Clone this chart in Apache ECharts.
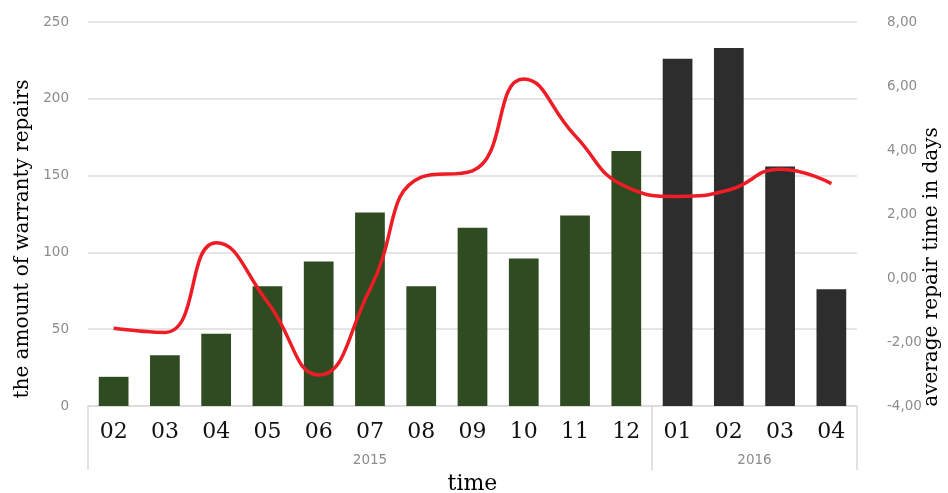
<!DOCTYPE html>
<html>
<head>
<meta charset="utf-8">
<script src="https://cdn.jsdelivr.net/npm/echarts@6/dist/echarts.min.js"></script>
<style>html,body{margin:0;padding:0;background:#fff}#c{width:948px;height:493px}</style>
</head>
<body>
<div id="c"></div>
<script>
// ---- data ----
const months = ['02','03','04','05','06','07','08','09','10','11','12','01','02','03','04'];
const years = ['2015','2016'];
const monthsPerYear = [11, 4];
const repairs = [19, 33, 47, 78, 94, 126, 78, 116, 96, 124, 166, 226, 233, 156, 76];
const avgDays = [-1.57, -1.7, 1.1, -0.75, -3.03, -0.35, 3.15, 3.35, 6.22, 4.45, 2.85, 2.55, 2.75, 3.4, 2.95];
const leftTicks = [0, 250, 50];
const rightTicks = [-4, 8, 2];

// year axis built on half-category slots
const nHalf = months.length * 2;
const yearAxisData = new Array(nHalf + 1).fill('');
const yearBounds = [0];
let acc = 0;
years.forEach((y, i) => {
  const start = acc;
  acc += monthsPerYear[i];
  yearAxisData[start + acc] = y;
  yearBounds.push(acc * 2);
});

const chart = echarts.init(document.getElementById('c'));
const gray = '#8c8c8c';
const tickFont = { color: gray, fontFamily: 'DejaVu Sans', fontSize: 13.5 };
const titleFont = { color: '#000', fontFamily: 'DejaVu Serif', fontSize: 20 };
chart.setOption({
  animation: false,
  grid: [
    { left: 88, right: 91, top: 22, bottom: 87, outerBoundsMode: 'none', containLabel: false },
    { left: 88, right: 91, top: 406, height: 64, outerBoundsMode: 'none', containLabel: false }
  ],
  xAxis: [
    {
      type: 'category',
      gridIndex: 0,
      data: months,
      position: 'bottom',
      axisLine: { lineStyle: { color: '#d9d9d9', width: 1.5 } },
      axisTick: { show: false },
      axisLabel: { interval: 0, color: '#111', fontFamily: 'DejaVu Serif', fontSize: 22, margin: 15 },
      name: 'time',
      nameLocation: 'middle',
      nameGap: 67,
      nameTextStyle: { color: '#000', fontFamily: 'DejaVu Serif', fontSize: 22 }
    },
    {
      type: 'category',
      gridIndex: 1,
      data: yearAxisData,
      boundaryGap: false,
      position: 'top',
      axisLine: { show: false, onZero: false },
      axisTick: { show: false },
      splitLine: {
        show: true, lineStyle: { color: '#d9d9d9', width: 1.5 },
        interval: (idx) => yearBounds.indexOf(idx) !== -1
      },
      axisLabel: Object.assign({ interval: 0, inside: true, margin: 47 }, tickFont)
    }
  ],
  yAxis: [
    {
      type: 'value', gridIndex: 0, min: leftTicks[0], max: leftTicks[1], interval: leftTicks[2],
      axisLine: { show: false }, axisTick: { show: false },
      axisLabel: Object.assign({ margin: 19 }, tickFont),
      splitLine: { lineStyle: { color: '#dcdcdc', width: 1.5 } },
      name: 'the amount of warranty repairs',
      nameLocation: 'middle', nameGap: 55,
      nameTextStyle: Object.assign({ padding: [0, 50, 0, 0] }, titleFont)
    },
    {
      type: 'value', gridIndex: 0, min: rightTicks[0], max: rightTicks[1], interval: rightTicks[2],
      position: 'right',
      axisLine: { show: false }, axisTick: { show: false },
      axisLabel: Object.assign({ margin: 30, formatter: v => v.toFixed(2).replace('.', ',') }, tickFont),
      splitLine: { show: false }
    },
    {
      type: 'category', gridIndex: 1, data: ['', ''], boundaryGap: false, show: false,
      axisLine: { show: false }, axisTick: { show: false }, axisLabel: { show: false },
      splitLine: { show: false }
    },
    {
      // carries the right-hand axis title only
      type: 'value', gridIndex: 0, min: rightTicks[0], max: rightTicks[1], interval: rightTicks[2],
      position: 'right',
      axisLine: { show: false }, axisTick: { show: false }, axisLabel: { show: false },
      splitLine: { show: false },
      name: 'average repair time in days',
      nameLocation: 'middle', nameGap: 65,
      nameTextStyle: Object.assign({ padding: [0, 106, 0, 0] }, titleFont)
    }
  ],
  series: [
    {
      type: 'bar',
      data: repairs,
      barWidth: '58%',
      xAxisIndex: 0, yAxisIndex: 0,
      itemStyle: { color: p => p.dataIndex < monthsPerYear[0] ? '#2f4b22' : '#2d2d2d' }
    },
    {
      type: 'line',
      data: avgDays,
      xAxisIndex: 0, yAxisIndex: 1,
      smooth: 0.5,
      showSymbol: false,
      lineStyle: { color: '#ee1c25', width: 3.5 }
    }
  ]
});
</script>
</body>
</html>
